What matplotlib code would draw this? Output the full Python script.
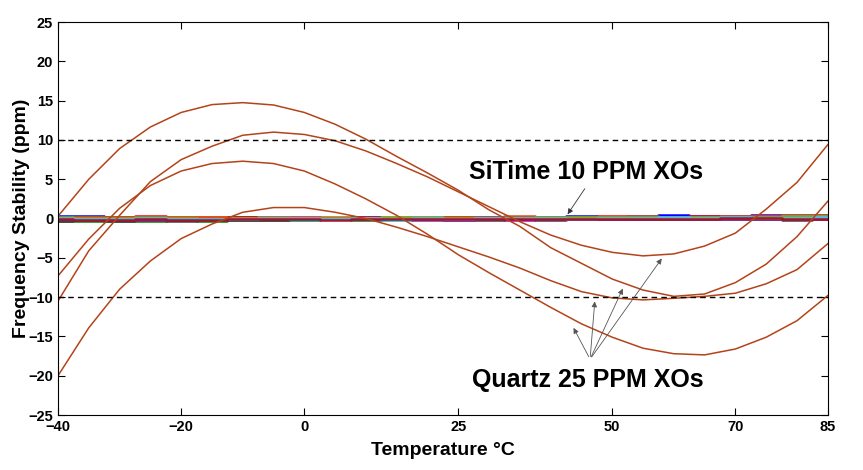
import matplotlib
matplotlib.use("Agg")
import matplotlib.pyplot as plt

plt.rcParams['font.family'] = ['Liberation Sans', 'DejaVu Sans']
plt.rcParams['font.weight'] = 'bold'

# temperaturas de medida (C)
temps = [-40, -35, -30, -25, -20, -15, -10, -5, 0, 5, 10, 15, 20, 25,
         30, 35, 40, 45, 50, 55, 60, 65, 70, 75, 80, 85]

# osciladores de cuarzo (ppm)
quartz_a = [0.3, 5.0, 8.9, 11.65, 13.5, 14.5, 14.75, 14.45, 13.5, 12.0, 10.1, 7.9, 5.8, 3.6,
            1.1, -1.0, -3.7, -5.7, -7.7, -9.1, -9.9, -9.6, -8.15, -5.8, -2.3, 2.2]
quartz_b = [-10.5, -4.1, 0.4, 4.7, 7.5, 9.2, 10.6, 11.0, 10.7, 9.9, 8.6, 7.0, 5.3, 3.4,
            1.5, -0.4, -2.1, -3.4, -4.3, -4.75, -4.5, -3.5, -1.85, 1.2, 4.6, 9.4]
quartz_c = [-7.3, -2.6, 1.3, 4.2, 6.05, 7.0, 7.3, 7.0, 6.05, 4.4, 2.5, 0.4, -2.0, -4.6,
            -6.9, -9.1, -11.3, -13.4, -15.1, -16.5, -17.2, -17.35, -16.6, -15.1, -13.0, -9.8]
quartz_d = [-20.0, -13.9, -9.0, -5.4, -2.55, -0.7, 0.8, 1.4, 1.4, 0.8, 0.0, -1.1, -2.3, -3.6,
            -4.9, -6.3, -7.9, -9.3, -10.1, -10.35, -10.15, -9.9, -9.5, -8.3, -6.5, -3.2]

# osciladores SiTime (ppm)
sitime_1 = [0.3, 0.3, 0.25, 0.2, 0.1, 0.1, 0.15, 0.05, 0.0, 0.05, 0.15, 0.1, 0.1,
            0.2, 0.25, 0.2, 0.25, 0.3, 0.25, 0.3, 0.4, 0.35, 0.35, 0.4, 0.45, 0.4]
sitime_2 = [-0.35, -0.3, -0.25, -0.3, -0.2, -0.25, -0.2, -0.15, -0.2, -0.1, -0.15, -0.1, -0.05,
            -0.1, -0.05, 0.0, -0.05, 0.0, 0.05, 0.0, 0.05, 0.1, 0.05, 0.1, 0.15, 0.1]
sitime_3 = [0.15, 0.25, 0.2, 0.3, 0.15, 0.2, 0.25, 0.2, 0.15, 0.1, 0.2, 0.05, 0.1,
            0.15, 0.1, 0.2, 0.15, 0.2, 0.3, 0.2, 0.25, 0.3, 0.25, 0.35, 0.3, 0.35]
sitime_4 = [0.0, -0.1, 0.05, 0.0, -0.05, 0.05, -0.05, -0.1, -0.15, -0.1, -0.05, -0.15, 0.0,
            -0.05, 0.05, -0.05, 0.1, 0.05, 0.1, 0.15, 0.1, 0.2, 0.15, 0.2, 0.25, 0.2]
sitime_5 = [-0.2, -0.1, -0.15, -0.05, -0.1, 0.0, -0.05, 0.0, 0.1, 0.05, -0.05, 0.0, -0.1,
            -0.15, -0.1, -0.2, -0.05, -0.1, 0.0, 0.05, -0.05, 0.05, 0.1, 0.0, 0.05, -0.05]
sitime_6 = [0.1, 0.05, 0.1, 0.1, 0.05, 0.1, 0.1, 0.15, 0.1, 0.0, 0.0, 0.05, 0.1,
            0.05, -0.05, 0.05, 0.0, 0.1, 0.15, 0.1, 0.15, 0.15, 0.2, 0.25, 0.2, 0.25]
sitime_7 = [-0.25, -0.2, -0.3, -0.15, -0.25, -0.1, -0.15, -0.2, -0.05, -0.1, -0.05, -0.05, 0.0,
            0.05, -0.15, -0.1, -0.15, -0.1, -0.1, -0.05, 0.0, -0.05, -0.1, -0.05, -0.15, -0.1]
sitime_8 = [0.05, 0.15, 0.15, 0.1, 0.25, 0.15, 0.1, 0.2, 0.05, 0.15, 0.1, 0.2, 0.2,
            0.25, 0.15, 0.3, 0.25, 0.15, 0.2, 0.3, 0.2, 0.25, 0.3, 0.3, 0.4, 0.45]
sitime_9 = [-0.1, -0.05, -0.1, -0.15, -0.1, -0.05, -0.1, 0.05, -0.05, 0.0, -0.1, -0.05, -0.15,
            -0.2, -0.1, -0.1, -0.05, -0.05, -0.1, 0.0, 0.05, 0.0, 0.0, -0.05, 0.0, -0.1]
sitime_10 = [0.2, 0.1, 0.05, 0.15, 0.05, 0.0, 0.05, 0.1, 0.0, 0.05, 0.05, 0.15, 0.15,
             0.1, 0.1, 0.05, 0.15, 0.25, 0.15, 0.15, 0.1, 0.25, 0.2, 0.15, 0.35, 0.3]
sitime_11 = [0.05, 0.0, -0.05, 0.05, 0.0, -0.05, 0.0, 0.05, 0.05, -0.05, 0.05, 0.0, 0.05,
             0.0, 0.05, 0.1, 0.05, 0.0, 0.05, 0.1, 0.15, 0.1, 0.15, 0.1, 0.1, 0.15]
sitime_12 = [-0.05, -0.15, -0.2, -0.1, -0.15, -0.15, -0.1, -0.05, -0.1, -0.15, -0.1, -0.1, -0.05,
             -0.05, 0.0, -0.05, -0.1, -0.05, 0.0, -0.1, -0.05, 0.0, 0.05, 0.05, -0.05, 0.0]

sitime_series = [sitime_1, sitime_2, sitime_3, sitime_4, sitime_5, sitime_6,
                 sitime_7, sitime_8, sitime_9, sitime_10, sitime_11, sitime_12]
quartz_series = [quartz_a, quartz_b, quartz_c, quartz_d]
sitime_colors = ['#0000ff', '#008000', '#ff0000', '#00bfbf', '#bf00bf', '#bfbf00',
                 '#404040', '#d95319', '#7e2f8e', '#77ac30', '#4dbeee', '#a2142f']

# anotaciones (coordenadas en datos)
sitime_text = (45.7, 5.9)
sitime_arrow = [(45.8, 4.1), (42.5, 0.25)]
quartz_text = (46.0, -20.5)
quartz_tail = (46.4, -17.9)
quartz_heads = [(43.5, -13.6), (47.2, -10.2), (51.9, -8.6), (58.3, -4.8)]

fig = plt.figure(figsize=(8.63, 4.70), dpi=100)
ax = fig.add_axes([0.0672, 0.117, 0.892, 0.836])

for vals, col in zip(sitime_series, sitime_colors):
    ax.plot(temps, vals, color=col, lw=1.8, drawstyle='steps-mid')

for vals in quartz_series:
    ax.plot(temps, vals, color='#b3441a', lw=1.1)

ax.axhline(10, color='k', ls='--', lw=1.0, dashes=(4, 3))
ax.axhline(-10, color='k', ls='--', lw=1.0, dashes=(4, 3))

ax.text(*sitime_text, 'SiTime 10 PPM XOs', fontsize=18, fontweight='bold',
        ha='center', va='center')
ax.annotate('', xy=sitime_arrow[1], xytext=sitime_arrow[0],
            arrowprops=dict(arrowstyle='-|>', color='#333333', lw=0.6, mutation_scale=8))
ax.text(*quartz_text, 'Quartz 25 PPM XOs', fontsize=18, fontweight='bold',
        ha='center', va='center')
for head in quartz_heads:
    ax.annotate('', xy=head, xytext=quartz_tail,
                arrowprops=dict(arrowstyle='-|>', color='#555555', lw=0.6, mutation_scale=8))

ax.set_xlim(-40, 85)
ax.set_ylim(-25, 25)
ax.set_xticks([-40, -20, 0, 25, 50, 70, 85])
ax.set_yticks(range(-25, 30, 5))
ax.tick_params(direction='in', top=True, right=True, labelsize=10.5, length=5, width=0.8)
for lbl in ax.get_xticklabels() + ax.get_yticklabels():
    lbl.set_fontweight('bold')
for sp in ax.spines.values():
    sp.set_linewidth(0.8)

ax.set_xlabel('Temperature °C', fontsize=14, fontweight='bold', labelpad=6)
ax.set_ylabel('Frequency Stability (ppm)', fontsize=14, fontweight='bold', labelpad=-1)

fig.savefig('out.png', dpi=100)
